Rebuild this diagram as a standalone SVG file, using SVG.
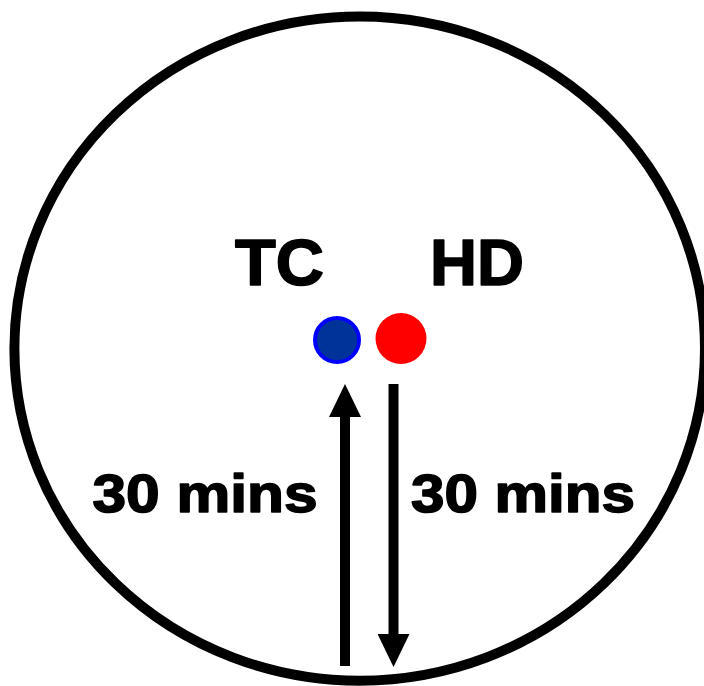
<svg xmlns="http://www.w3.org/2000/svg" width="704" height="686" viewBox="0 0 704 686">
  <style>
    .lbl { font-family: "Liberation Sans", Arial, sans-serif; font-weight: bold; fill: #000; stroke: #000; stroke-width: 1.6; stroke-linejoin: round; }
    .big { font-size: 64px; }
    .mid { font-size: 54px; }
    .conn { stroke: #000; stroke-width: 10; fill: none; }
  </style>
  <defs>
    <marker id="head" viewBox="0 0 33 32" refX="0" refY="16" markerWidth="33" markerHeight="32" markerUnits="userSpaceOnUse" orient="auto">
      <path d="M0,0 L33,16 L0,32 z" fill="#000"/>
    </marker>
  </defs>
  <rect width="704" height="686" fill="#fff"/>
  <g id="boundary">
    <ellipse cx="359.7" cy="348.6" rx="345.3" ry="332.1" fill="none" stroke="#000" stroke-width="10"/>
  </g>
  <g id="tc">
    <text class="lbl big" x="235" y="284.5" textLength="89" lengthAdjust="spacingAndGlyphs">TC</text>
    <circle cx="337" cy="340" r="22" fill="#003399" stroke="#0000ff" stroke-width="4"/>
  </g>
  <g id="hd">
    <text class="lbl big" x="430" y="284.5" textLength="94" lengthAdjust="spacingAndGlyphs">HD</text>
    <circle cx="401" cy="338.5" r="25.5" fill="#ff0000"/>
  </g>
  <g id="connectors">
    <line class="conn" x1="345" y1="666" x2="345" y2="417" marker-end="url(#head)"/>
    <line class="conn" x1="393.5" y1="384" x2="393.5" y2="634" marker-end="url(#head)"/>
  </g>
  <g id="labels">
    <text class="lbl mid" x="92.5" y="512" textLength="225" lengthAdjust="spacingAndGlyphs">30 mins</text>
    <text class="lbl mid" x="411" y="512" textLength="224" lengthAdjust="spacingAndGlyphs">30 mins</text>
  </g>
</svg>
